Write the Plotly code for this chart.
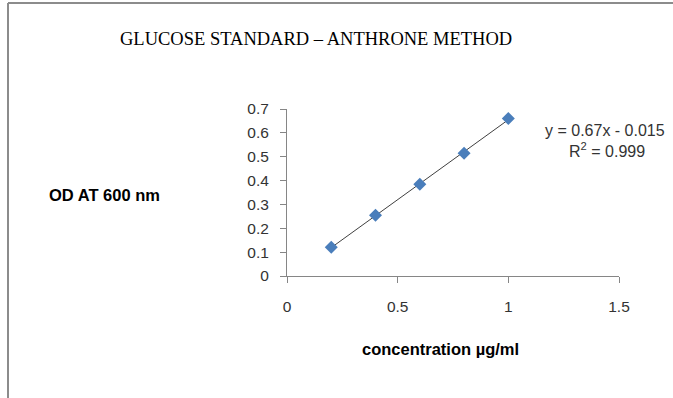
import numpy as np
import plotly.graph_objects as go

# Data
concentration = [0.2, 0.4, 0.6, 0.8, 1.0]
od_600 = [0.12, 0.255, 0.385, 0.515, 0.66]
x_ticks = [0, 0.5, 1, 1.5]
y_ticks = [0, 0.1, 0.2, 0.3, 0.4, 0.5, 0.6, 0.7]
title_text = "GLUCOSE STANDARD – ANTHRONE METHOD"
y_title = "OD AT 600 nm"
x_title = "concentration µg/ml"
equation_line1 = "y = 0.67x - 0.015"
equation_line2 = "R<sup>2</sup> = 0.999"

W, H = 673, 398
L, R, T, B = 287, 54, 109, 122
pw, ph = W - L - R, H - T - B

def px(x):
    return (x - L) / pw

def py(y):
    return (H - B - y) / ph

slope, intercept = np.polyfit(concentration, od_600, 1)
fit_x = [min(concentration), max(concentration)]
fit_y = [slope * v + intercept for v in fit_x]

fig = go.Figure()
fig.add_trace(go.Scatter(x=fit_x, y=fit_y, mode="lines",
                         line=dict(color="#404040", width=1), showlegend=False,
                         hoverinfo="skip"))
fig.add_trace(go.Scatter(x=concentration, y=od_600, mode="markers",
                         marker=dict(symbol="diamond", size=10, color="#4A7EBB",
                                     line=dict(width=0)),
                         showlegend=False))

axis_font = dict(family="Liberation Sans, Arial, sans-serif", size=15.5, color="#333333")
fig.update_xaxes(range=[0, 1.5], tickvals=x_ticks, ticktext=[f"{v:g}" for v in x_ticks],
                 showline=True, linecolor="#868686", linewidth=1, showgrid=False,
                 zeroline=False, ticks="outside", ticklen=6, tickcolor="#868686",
                 ticklabelstandoff=10, tickfont=axis_font, fixedrange=True)
fig.update_yaxes(range=[0, 0.7], tickvals=y_ticks, ticktext=[f"{v:g}" for v in y_ticks],
                 showline=True, linecolor="#868686", linewidth=1, showgrid=False,
                 zeroline=False, ticks="outside", ticklen=6, tickcolor="#868686",
                 ticklabelstandoff=8, tickfont=axis_font, fixedrange=True)

eq_font = dict(family="Liberation Sans, Arial, sans-serif", size=16, color="#333333")
annotations = [
    dict(text=title_text, x=px(316), y=py(39), xref="paper", yref="paper",
         showarrow=False, xanchor="center", yanchor="middle",
         font=dict(family="Liberation Serif, Times New Roman, serif", size=18.5, color="#000000")),
    dict(text="<b>" + y_title + "</b>", x=px(105), y=py(195), xref="paper", yref="paper",
         showarrow=False, xanchor="center", yanchor="middle",
         font=dict(family="Liberation Sans, Arial, sans-serif", size=16.5, color="#000000")),
    dict(text="<b>" + x_title + "</b>", x=px(440), y=py(349), xref="paper", yref="paper",
         showarrow=False, xanchor="center", yanchor="middle",
         font=dict(family="Liberation Sans, Arial, sans-serif", size=16.5, color="#000000")),
    dict(text=equation_line1, x=px(605), y=py(130), xref="paper", yref="paper",
         showarrow=False, xanchor="center", yanchor="middle", font=eq_font),
    dict(text=equation_line2, x=px(607), y=py(150), xref="paper", yref="paper",
         showarrow=False, xanchor="center", yanchor="middle", font=eq_font),
]

shapes = [
    dict(type="line", xref="paper", yref="paper", x0=px(8), x1=px(W + 5), y0=py(3), y1=py(3),
         line=dict(color="#8c8c8c", width=2)),
    dict(type="line", xref="paper", yref="paper", x0=px(8), x1=px(8), y0=py(3), y1=py(H + 5),
         line=dict(color="#8c8c8c", width=2)),
]

fig.update_layout(width=W, height=H, margin=dict(l=L, r=R, t=T, b=B),
                  paper_bgcolor="white", plot_bgcolor="white",
                  annotations=annotations, shapes=shapes, showlegend=False)

fig.write_html("out.html", config={"displayModeBar": False},
               post_script="document.body.style.margin='0';document.body.style.overflow='hidden';")
